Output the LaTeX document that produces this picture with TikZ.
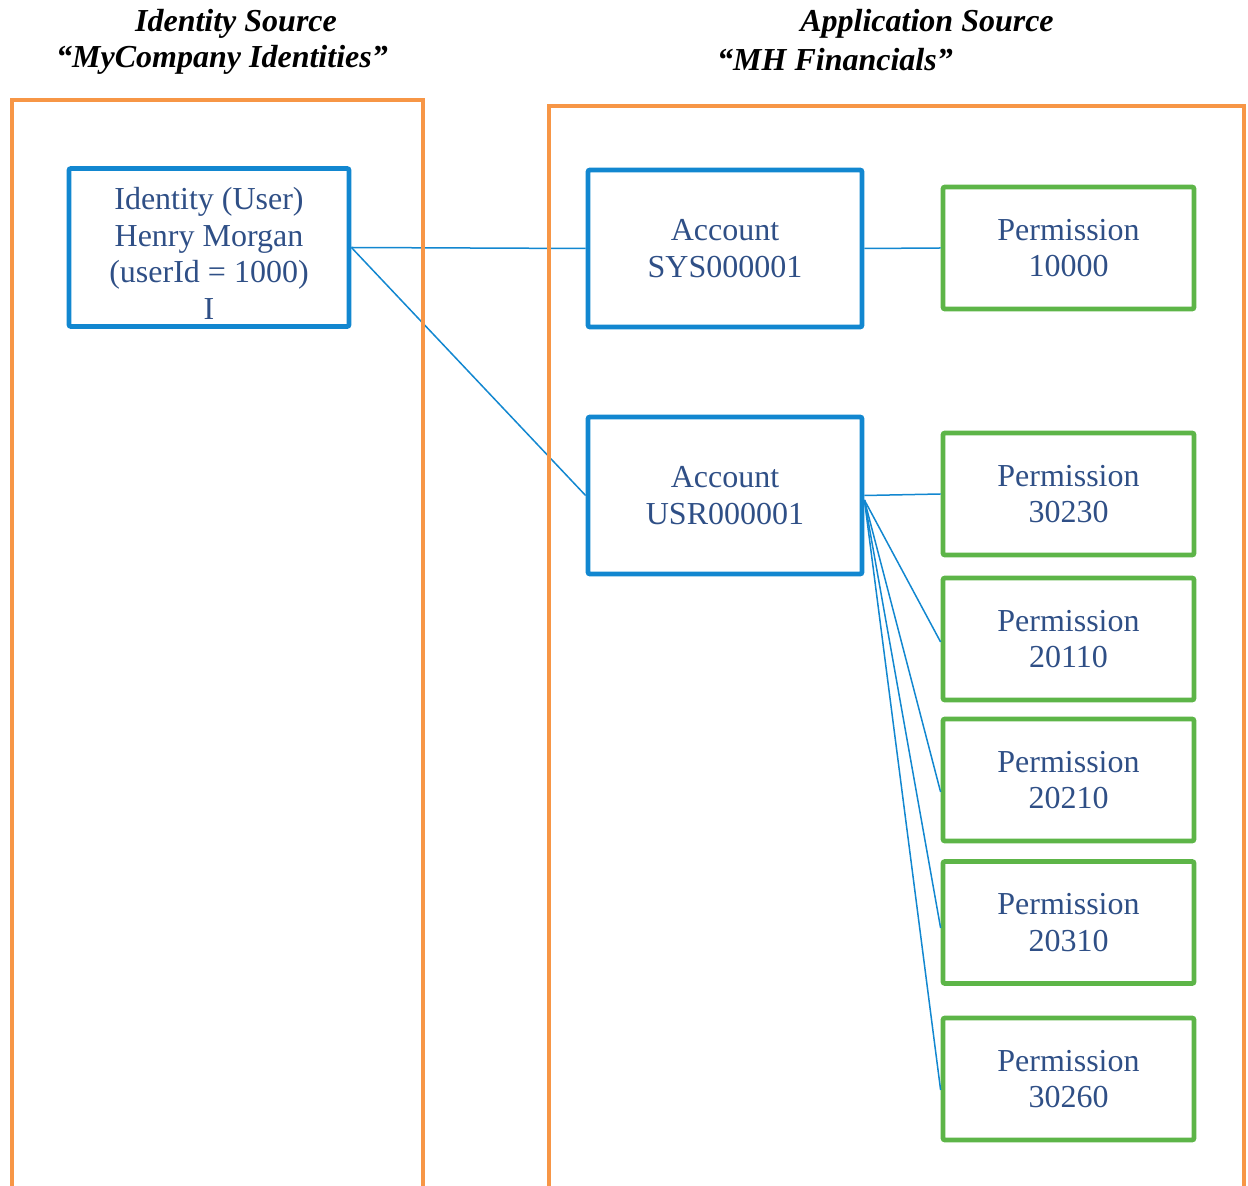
\documentclass[tikz,border=0pt]{standalone}
\usepackage{fontspec}
\setmainfont{Liberation Serif}
\usepackage{tikz}
\usetikzlibrary{positioning}

\definecolor{srcorange}{HTML}{F79646}
\definecolor{boxblue}{HTML}{1287D0}
\definecolor{permgreen}{HTML}{5DB548}
\definecolor{textblue}{HTML}{2F4F86}

\begin{document}
\begin{tikzpicture}[x=0.5pt,y=-0.5pt,
        source/.style={draw=srcorange, line width=2pt},
        heading/.style={font=\bfseries\itshape\fontsize{16}{18}\selectfont, inner sep=0pt},
        entity/.style={draw=boxblue, line width=2.4pt, rounded corners=1pt, align=center,
            text=textblue, inner sep=0pt, font=\fontsize{16}{18.3}\selectfont},
        account/.style={entity, minimum width=137pt, minimum height=78.5pt},
        permission/.style={entity, draw=permgreen, minimum width=125.5pt, minimum height=61pt},
        link/.style={draw=boxblue, line width=0.75pt}
        ]
    \useasboundingbox (0,0) rectangle (1248,1186);

    % source titles
    \node[heading] (idtitle) at (236,24) {Identity Source};
    \node[heading] (idname) at (222,60) {“MyCompany Identities”};
    \node[heading] (apptitle) at (927,24) {Application Source};
    \node[heading] (appname) at (835,60) {“MH Financials”};

    % identity and accounts
    \node[entity, minimum width=140pt, minimum height=79pt] (ident) at (209,247.5)
        {\rule{0pt}{17pt}Identity (User)\\Henry Morgan\\(userId = 1000)\\I};
    \node[account] (sys) at (725,248.5) {Account\\SYS000001};
    \node[account] (usr) at (725,495.5) {Account\\USR000001};

    % permissions of the application
    \foreach \p/\y [count=\i] in {10000/248, 30230/494, 20110/639, 20210/780, 20310/922.5, 30260/1079} {
        \node[permission] (perm\i) at (1068.5,\y) {Permission\\\p};
    }

    \draw[link] (ident.east) -- (sys.west);
    \draw[link] (ident.east) -- (usr.west);
    \draw[link] (sys.east) -- (perm1.west);
    \draw[link] (usr.east) -- (perm2.west);
    % fan out from the user account
    \foreach \i/\s in {3/1.5, 4/6, 5/2.75, 6/5.5} {
        \draw[link] ([yshift=-2.25pt]usr.east) -- ([yshift=-\s pt]perm\i.west);
    }

    % the two sources, open at the bottom
    \draw[source] (12,1186) |- (423,100) -- (423,1186);
    \draw[source] (549,1186) |- (1244,106) -- (1244,1186);
\end{tikzpicture}
\end{document}
